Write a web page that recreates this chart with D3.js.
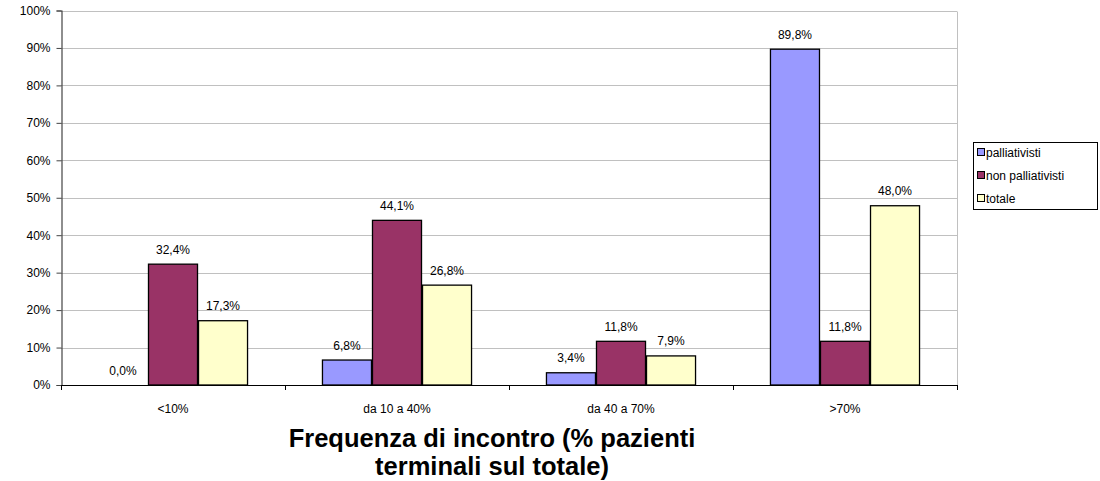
<!DOCTYPE html>
<html>
<head>
<meta charset="utf-8">
<script src="https://cdn.jsdelivr.net/npm/d3@7"></script>
<style>
  html, body { margin: 0; padding: 0; background: #fff; }
  svg { display: block; font-family: "Liberation Sans", Arial, sans-serif; }
</style>
</head>
<body>
<svg id="chart" width="1100" height="481"></svg>
<script>
// Frequency categories and share of respondents per group
const categories = ["<10%", "da 10 a 40%", "da 40 a 70%", ">70%"];
const seriesNames = ["palliativisti", "non palliativisti", "totale"];
const palliativisti = [0.0, 6.8, 3.4, 89.8];
const nonPalliativisti = [32.4, 44.1, 11.8, 11.8];
const totale = [17.3, 26.8, 7.9, 48.0];
const yTicks = [0, 10, 20, 30, 40, 50, 60, 70, 80, 90, 100];
const colors = ["#9999FF", "#993366", "#FFFFCC"];

const seriesValues = [palliativisti, nonPalliativisti, totale];

const svg = d3.select("#chart");
const plot = { left: 61, right: 957, top: 10.5, bottom: 385 };

const x = d3.scaleBand()
  .domain(categories)
  .range([plot.left, plot.right])
  .paddingInner(0.33)
  .paddingOuter(0.165);

const xSub = d3.scaleBand()
  .domain(seriesNames)
  .range([0, x.bandwidth()]);

const y = d3.scaleLinear().domain([0, 100]).range([plot.bottom, plot.top]);

const fmt = v => v.toFixed(1).replace(".", ",") + "%";

// gridlines
svg.append("g")
  .selectAll("line")
  .data(yTicks.filter(t => t > 0))
  .join("line")
  .attr("x1", plot.left).attr("x2", plot.right)
  .attr("y1", d => Math.round(y(d)) + 0.5).attr("y2", d => Math.round(y(d)) + 0.5)
  .attr("stroke", "#c0c0c0").attr("stroke-width", 1);

// right border of the plot area
svg.append("line")
  .attr("x1", plot.right + 0.5).attr("x2", plot.right + 0.5)
  .attr("y1", Math.round(plot.top) + 0.5).attr("y2", plot.bottom)
  .attr("stroke", "#c0c0c0");

// bars
const groups = svg.append("g")
  .selectAll("g")
  .data(categories)
  .join("g")
  .attr("transform", d => `translate(${x(d)},0)`);

groups.each(function(cat, ci) {
  const g = d3.select(this);
  seriesNames.forEach((name, si) => {
    const v = seriesValues[si][ci];
    const bx = xSub(name);
    const top = y(v);
    if (v > 0) {
      g.append("rect")
        .attr("x", bx + 0.5)
        .attr("y", top + 0.5)
        .attr("width", xSub.bandwidth() - 1)
        .attr("height", plot.bottom - top - 0.5)
        .attr("fill", colors[si])
        .attr("stroke", "#000")
        .attr("stroke-width", 1.3);
    }
    g.append("text")
      .attr("x", bx + xSub.bandwidth() / 2)
      .attr("y", top - 10)
      .attr("text-anchor", "middle")
      .attr("font-size", 12)
      .attr("fill", "#000")
      .text(fmt(v));
  });
});

// y axis
const yAxis = svg.append("g")
  .attr("transform", `translate(${plot.left + 0.5},0)`)
  .call(d3.axisLeft(y).tickValues(yTicks).tickSize(5).tickPadding(6).tickFormat(d => d + "%"));
yAxis.select(".domain").attr("stroke", "#444").attr("stroke-width", 1.2);
yAxis.selectAll(".tick line").attr("stroke", "#444");
yAxis.selectAll("text").attr("font-size", 12).attr("font-family", "Liberation Sans, Arial, sans-serif").attr("fill", "#000");

// x axis with ticks at category boundaries
svg.append("line")
  .attr("x1", plot.left).attr("x2", plot.right + 1)
  .attr("y1", plot.bottom + 0.5).attr("y2", plot.bottom + 0.5)
  .attr("stroke", "#000").attr("stroke-width", 1.2);

const step = x.step();
const boundaries = categories.map((c, i) => x(c) - x.paddingInner() * step / 2);
boundaries.push(plot.right);
svg.append("g")
  .selectAll("line")
  .data(boundaries)
  .join("line")
  .attr("x1", d => Math.round(d) + 0.5).attr("x2", d => Math.round(d) + 0.5)
  .attr("y1", plot.bottom).attr("y2", plot.bottom + 5)
  .attr("stroke", "#000");

svg.append("g")
  .selectAll("text")
  .data(categories)
  .join("text")
  .attr("x", d => x(d) + x.bandwidth() / 2)
  .attr("y", 413)
  .attr("text-anchor", "middle")
  .attr("font-size", 12)
  .text(d => d);

// axis title
const title = svg.append("text")
  .attr("text-anchor", "middle")
  .attr("font-size", 25.5)
  .attr("font-weight", "bold");
title.append("tspan").attr("x", 492).attr("y", 447).text("Frequenza di incontro (% pazienti");
title.append("tspan").attr("x", 492).attr("y", 475).text("terminali sul totale)");

// legend
const legend = svg.append("g");
legend.append("rect")
  .attr("x", 973.5).attr("y", 142.5)
  .attr("width", 124).attr("height", 67)
  .attr("fill", "#fff").attr("stroke", "#000");
seriesNames.forEach((name, i) => {
  const ly = 153 + i * 23;
  legend.append("rect")
    .attr("x", 977.5).attr("y", ly - 4.5)
    .attr("width", 7).attr("height", 7)
    .attr("fill", colors[i]).attr("stroke", "#000");
  legend.append("text")
    .attr("x", 986).attr("y", ly + 4)
    .attr("font-size", 12)
    .text(name);
});
</script>
</body>
</html>
